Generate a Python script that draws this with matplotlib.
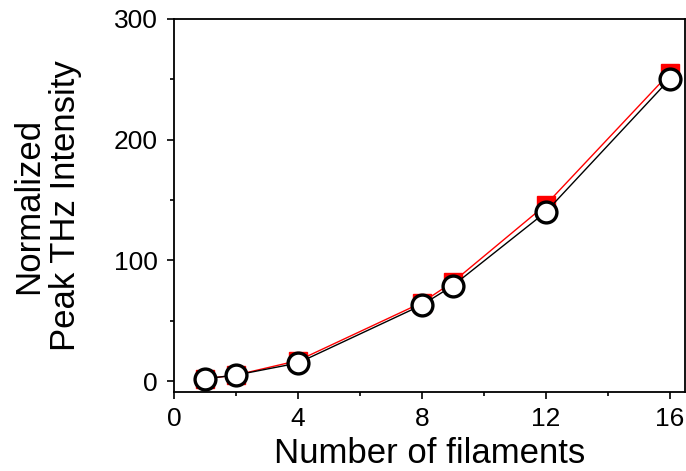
import matplotlib.pyplot as plt
from matplotlib.ticker import MultipleLocator

plt.rcParams['font.family'] = ['Liberation Sans', 'DejaVu Sans']

filaments = [1, 2, 4, 8, 9, 12, 16]
intensity_red = [2, 5, 17, 65, 82, 146, 255]
intensity_black = [2, 5, 15, 63, 79, 140, 250]

fig = plt.figure(figsize=(6.86, 4.71), dpi=100)
ax = fig.add_axes([0.2536, 0.1677, 0.7450, 0.7920])

ax.plot(filaments, intensity_red, color='red', lw=1.0, marker='s', ms=13,
        mfc='red', mec='red', zorder=2)
ax.plot(filaments, intensity_black, color='black', lw=1.0, marker='o', ms=15,
        mfc='white', mec='black', mew=2.4, zorder=3)

ax.set_xlim(0, 16.5)
ax.set_ylim(-9, 300)
ax.xaxis.set_major_locator(MultipleLocator(4))
ax.xaxis.set_minor_locator(MultipleLocator(2))
ax.yaxis.set_major_locator(MultipleLocator(100))
ax.yaxis.set_minor_locator(MultipleLocator(50))

ax.tick_params(which='major', direction='out', length=5, width=1.2, labelsize=19)
ax.tick_params(axis='y', which='major', pad=6.5)
ax.tick_params(axis='x', which='major', pad=6)
ax.tick_params(which='minor', direction='out', length=3, width=1.2)
for s in ax.spines.values():
    s.set_linewidth(1.3)

ax.set_xlabel('Number of filaments', fontsize=25, labelpad=4)
ax.set_ylabel('Normalized\nPeak THz Intensity', fontsize=25, linespacing=1.15)
ax.yaxis.set_label_coords(-0.18, 0.5)

fig.savefig('out.png', dpi=100)
